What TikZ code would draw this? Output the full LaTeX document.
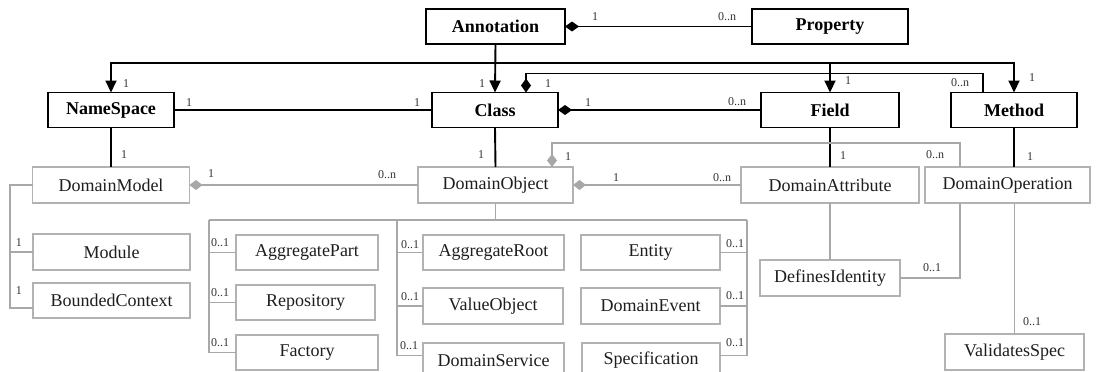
\documentclass[tikz,border=0pt]{standalone}
\usepackage{fontspec}
\setmainfont{Liberation Serif}
\usetikzlibrary{arrows.meta}
\definecolor{boxgray}{HTML}{B2B2B2}
\definecolor{linegray}{HTML}{A8A8A8}
\definecolor{labelc}{HTML}{333333}
\definecolor{lowtext}{HTML}{1E1E1E}
\tikzset{
 topbox/.style={draw=black, line width=1.7pt, fill=white, inner sep=0pt, outer sep=0pt, minimum height=35pt, font=\fontsize{18}{20}\selectfont\bfseries},
 lowbox/.style={draw=boxgray, line width=1.4pt, fill=white, inner sep=0pt, outer sep=0pt, minimum height=35pt, text=lowtext, font=\fontsize{18}{20}\selectfont},
 blk/.style={draw=black, line width=1.9pt},
 gry/.style={draw=linegray, line width=1.3pt},
 arr/.style={-{Triangle[length=12pt,width=11pt]}},
 comp/.style={{Diamond[length=14pt,width=10pt]}-},
 agg/.style={{Diamond[length=13pt,width=10pt]}-},
 lbl/.style={font=\fontsize{12}{13}\selectfont, text=labelc, inner sep=0pt},
}
\begin{document}
\begin{tikzpicture}[x=1pt,y=-1pt]
\useasboundingbox (0,0) rectangle (1100,372);
\fill[white] (0,0) rectangle (1100,372);
\clip (0,0) rectangle (1100,372);
% top (black) boxes
\node[topbox, minimum width=139pt] (annotation) at (495.5,26.5) {Annotation};
\node[topbox, minimum width=156pt] (property) at (830,26.5) {Property};
\node[topbox, minimum width=126pt] (namespace) at (111,110) {NameSpace};
\node[topbox, minimum width=126pt] (class) at (495,110) {Class};
\node[topbox, minimum width=138pt] (field) at (830,110) {Field};
\node[topbox, minimum width=126pt] (method) at (1014,110) {Method};
% lower (gray) boxes
\node[lowbox, minimum width=157pt, minimum height=36pt] (domainmodel) at (111,185) {DomainModel};
\node[lowbox, minimum width=155pt, minimum height=36pt] (domainobject) at (495.5,185) {DomainObject};
\node[lowbox, minimum width=178pt, minimum height=36pt] (domainattribute) at (830,185) {DomainAttribute};
\node[lowbox, minimum width=165pt, minimum height=36pt] (domainoperation) at (1007.5,185) {DomainOperation};
\node[lowbox, minimum width=157pt, minimum height=36pt] (module) at (111.5,252) {Module};
\node[lowbox, minimum width=157pt] (boundedcontext) at (111.5,300.5) {BoundedContext};
\node[lowbox, minimum width=142pt] (aggregatepart) at (307,252.5) {AggregatePart};
\node[lowbox, minimum width=139pt] (repository) at (305.5,302.5) {Repository};
\node[lowbox, minimum width=142pt] (factory) at (307,352.5) {Factory};
\node[lowbox, minimum width=141pt] (aggregateroot) at (493.5,252.5) {AggregateRoot};
\node[lowbox, minimum width=140pt, minimum height=36pt] (valueobject) at (493,306) {ValueObject};
\node[lowbox, minimum width=141pt] (domainservice) at (493.5,360.5) {DomainService};
\node[lowbox, minimum width=139pt] (entity) at (650.5,252.5) {Entity};
\node[lowbox, minimum width=139pt, minimum height=36pt] (domainevent) at (650.5,306) {DomainEvent};
\node[lowbox, minimum width=138pt] (specification) at (651,360.5) {Specification};
\node[lowbox, minimum width=140pt, minimum height=36pt] (definesidentity) at (830,278) {DefinesIdentity};
\node[lowbox, minimum width=139pt, minimum height=36pt] (validatesspec) at (1014.5,352) {ValidatesSpec};
% coordinates for buses
\coordinate (abus) at (495,63);
\coordinate (lb) at (209,220);
\coordinate (mb) at (397,220);
\coordinate (rb) at (747,220);
\coordinate (obus) at (495.5,220);
\coordinate (dmb) at (10,185);
% black connectors
\draw[blk, comp] (annotation.east) -- (property.west);
\draw[blk, arr] (annotation.south) -- (class.north);
\draw[blk, arr] (abus) -| (namespace.north);
\draw[blk, arr] (abus) -| (field.north);
\draw[blk, arr] (abus) -| (method.north);
\draw[blk, comp] ([xshift=31pt]class.north) -- ++(0,-19) -| ([xshift=-31pt]method.north);
\draw[blk] (namespace.east) -- (class.west);
\draw[blk, comp] (class.east) -- (field.west);
\draw[blk] (namespace.south) -- (domainmodel.north);
\draw[blk] (class.south) -- (domainobject.north);
\draw[blk] (field.south) -- (domainattribute.north);
\draw[blk] (method.south) -- (method.south |- domainoperation.north);
% gray connectors
\draw[gry, agg] (domainmodel.east) -- (domainobject.west);
\draw[gry, agg] (domainobject.east) -- (domainattribute.west);
\draw[gry, agg] ([xshift=56.5pt]domainobject.north) -- ++(0,-24) -| ([xshift=-47.5pt]domainoperation.north);
\draw[gry] (domainmodel.west) -- (dmb) |- (module.west);
\draw[gry] (dmb) |- ([yshift=-7.5pt]boundedcontext.west);
\draw[gry] (domainobject.south) -- (obus);
\draw[gry] (lb) -- (rb);
\draw[gry] (lb) |- (aggregatepart.west);
\draw[gry] (lb) |- (repository.west);
\draw[gry] (lb) |- (factory.west);
\draw[gry] (mb) |- (aggregateroot.west);
\draw[gry] (mb) |- (valueobject.west);
\draw[gry] (mb) |- ([yshift=5pt]domainservice.west);
\draw[gry] (rb) |- (entity.east);
\draw[gry] (rb) |- (domainevent.east);
\draw[gry] (rb) |- ([yshift=5pt]specification.east);
\draw[gry] (domainattribute.south) -- (definesidentity.north);
\draw[gry] (definesidentity.east) -| ([xshift=-47.5pt]domainoperation.south);
\draw[gry] (validatesspec.north |- domainoperation.south) -- (validatesspec.north);
% labels
\node[lbl] (l1) at (595,17) {1};
\node[lbl] (l2) at (727,17) {0..n};
\node[lbl] (l3) at (126,84) {1};
\node[lbl] (l4) at (482,84) {1};
\node[lbl] (l5) at (548,84) {1};
\node[lbl] (l6) at (848,81) {1};
\node[lbl] (l7) at (960,83) {0..n};
\node[lbl] (l8) at (1032,78) {1};
\node[lbl] (l9) at (189,103) {1};
\node[lbl] (l10) at (417,103) {1};
\node[lbl] (l11) at (588,103) {1};
\node[lbl] (l12) at (737,102) {0..n};
\node[lbl] (l13) at (124,155) {1};
\node[lbl] (l14) at (481,155) {1};
\node[lbl] (l15) at (843,156) {1};
\node[lbl] (l16) at (1030,157) {1};
\node[lbl] (l17) at (935,155) {0..n};
\node[lbl] (l18) at (568,157) {1};
\node[lbl] (l19) at (211,174) {1};
\node[lbl] (l20) at (387,175) {0..n};
\node[lbl] (l21) at (616,178) {1};
\node[lbl] (l22) at (722,178) {0..n};
\node[lbl] (l23) at (19,243) {1};
\node[lbl] (l24) at (19,291) {1};
\node[lbl] (l25) at (220,243) {0..1};
\node[lbl] (l26) at (220,293) {0..1};
\node[lbl] (l27) at (220,343) {0..1};
\node[lbl] (l28) at (410,245) {0..1};
\node[lbl] (l29) at (410,297) {0..1};
\node[lbl] (l30) at (409,346) {0..1};
\node[lbl] (l31) at (735,244) {0..1};
\node[lbl] (l32) at (735,296) {0..1};
\node[lbl] (l33) at (735,343) {0..1};
\node[lbl] (l34) at (932,268) {0..1};
\node[lbl] (l35) at (1032,322) {0..1};
\end{tikzpicture}
\end{document}
